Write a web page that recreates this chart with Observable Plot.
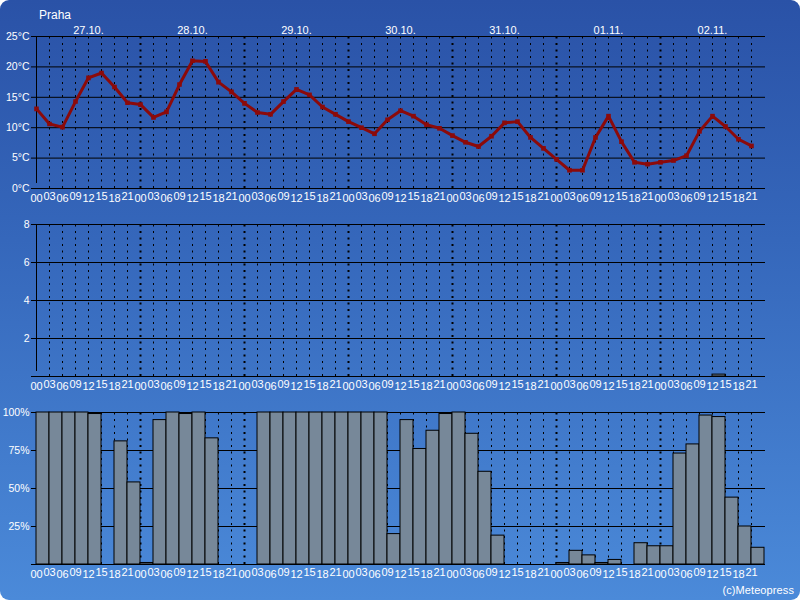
<!DOCTYPE html>
<html>
<head>
<meta charset="utf-8">
<script src="https://cdn.jsdelivr.net/npm/d3@7"></script>
<script src="https://cdn.jsdelivr.net/npm/@observablehq/plot@0.6"></script>
<style>
  html, body { margin: 0; padding: 0; background: #fff; }
  #card { position: absolute; left: 0; top: 0; width: 800px; height: 600px; border-radius: 9px;
          background: linear-gradient(to bottom, #2a52a7 0%, #3567bb 40%, #4b8ad9 100%); overflow: hidden;
          font-family: "Liberation Sans", Arial, sans-serif; }
  .panel { position: absolute; left: 0; }
  #title { position: absolute; left: 39px; top: 9px; font-size: 12px; line-height: 12px; color: #fff; }
  #copy { position: absolute; right: 6px; top: 585px; font-size: 11px; line-height: 11px; color: #fff; letter-spacing: 0.1px; }
</style>
</head>
<body>
<div id="card">
  <div id="title">Praha</div>
  <div class="panel" id="p1" style="top:0px"></div>
  <div class="panel" id="p2" style="top:216px"></div>
  <div class="panel" id="p3" style="top:404px"></div>
  <div id="copy">(c)Meteopress</div>
</div>
<script>
const hourLabels = ["00","03","06","09","12","15","18","21"];
const dayLabels = ["27.10.","28.10.","29.10.","30.10.","31.10.","01.11.","02.11."];
const temperature = [13.1,10.6,10.1,14.3,18.2,19.0,16.7,14.1,
                     13.8,11.7,12.6,17.1,21.0,20.9,17.5,15.9,
                     14.0,12.5,12.2,14.3,16.3,15.4,13.4,12.2,
                     11.0,10.0,9.0,11.3,12.8,11.9,10.5,9.9,
                     8.7,7.6,6.9,8.6,10.8,11.0,8.4,6.6,
                     4.8,3.0,3.0,8.4,11.9,7.7,4.3,4.0,
                     4.3,4.6,5.4,9.4,11.9,10.2,8.1,7.0];
const precipitation = [0,0,0,0,0,0,0,0, 0,0,0,0,0,0,0,0, 0,0,0,0,0,0,0,0, 0,0,0,0,0,0,0,0,
                       0,0,0,0,0,0,0,0, 0,0,0,0,0,0,0,0, 0,0,0,0,0.1,0,0,0];
const cloudCover = [100,100,100,100,99,0,81,54,
                    1,95,100,99,100,83,0,0,
                    0,100,100,100,100,100,100,100,
                    100,100,100,20,95,76,88,99,
                    100,86,61,19,0,0,0,0,
                    1,9,6,1,3,0,14,12,
                    12,73,79,98,97,44,25,11];
const tempTicks = [0,5,10,15,20,25];
const precipTicks = [2,4,6,8];
const cloudTicks = [25,50,75,100];

const N = temperature.length;
const idx = d3.range(N);
const thinIdx = idx.filter(i => i > 0 && i % 8 !== 0);
const midIdx = idx.filter(i => i > 0 && i % 8 === 0);
const evenIdx = idx.filter(i => i % 2 === 0);
const oddIdx = idx.filter(i => i % 2 === 1);
const dayCenters = dayLabels.map((_, k) => k * 8 + 4);

const FONT = "Liberation Sans, Arial, sans-serif";
const base = {
  width: 800, marginLeft: 36, marginRight: 36,
  style: { background: "transparent", color: "white", fontFamily: FONT, overflow: "visible" },
  x: { domain: [0, N], axis: null }
};

function frameMarks(ymax, gridTicks) {
  return [
    Plot.ruleX(thinIdx, { x: d => d, y1: 0, y2: ymax, stroke: "black", strokeWidth: 1, strokeDasharray: "2,4.5" }),
    Plot.ruleX(midIdx, { x: d => d, y1: 0, y2: ymax, stroke: "black", strokeWidth: 2, strokeDasharray: "2,4.5" }),
    Plot.ruleY([0, ...gridTicks], { y: d => d, stroke: "black", strokeWidth: 1, insetLeft: -5, insetRight: -1 }),
    Plot.ruleX([0], { x: d => d, y1: 0, y2: ymax, stroke: "black", strokeWidth: 1, insetTop: -5 })
  ];
}
function hourAxes() {
  return [
    Plot.axisX(evenIdx, { tickSize: 0, tickPadding: 6, tickFormat: i => hourLabels[i % 8], fontSize: 11, fill: "white", label: null }),
    Plot.axisX(oddIdx, { tickSize: 0, tickPadding: 3.5, tickFormat: i => hourLabels[i % 8], fontSize: 11, fill: "white", label: null })
  ];
}

const p1 = Plot.plot({
  ...base, height: 210, marginTop: 36, marginBottom: 22,
  y: { domain: [0, 25], axis: null },
  marks: [
    ...frameMarks(25, [5,10,15,20,25]),
    Plot.axisY(tempTicks, { tickSize: 0, tickPadding: 7, tickFormat: d => d + "°C", fontSize: 10.5, fill: "white", label: null }),
    ...hourAxes(),
    Plot.axisX(dayCenters, { anchor: "top", tickSize: 0, tickPadding: 3, tickFormat: d => dayLabels[(d - 4) / 8], fontSize: 11, fill: "white", label: null }),
    Plot.line(temperature, { x: (d, i) => i, y: d => d, stroke: "#8c0a0a", strokeWidth: 3 }),
    Plot.dot(temperature, { x: (d, i) => i, y: d => d, symbol: "square", r: 2.6, fill: "#8c0a0a", stroke: "none" })
  ]
});
document.getElementById("p1").appendChild(p1);

const precipData = precipitation.map((v, i) => ({ i, v })).filter(d => d.v > 0);
const p2 = Plot.plot({
  ...base, height: 182, marginTop: 8, marginBottom: 22,
  y: { domain: [0, 8], axis: null },
  marks: [
    ...frameMarks(8, [2,4,6,8]),
    Plot.axisY(precipTicks, { tickSize: 0, tickPadding: 7, fontSize: 10.5, fill: "white", label: null }),
    ...hourAxes(),
    Plot.rectY(precipData, { x1: d => d.i, x2: d => d.i + 1, y1: 0, y2: d => d.v, fill: "#778899", stroke: "black", strokeWidth: 1 })
  ]
});
document.getElementById("p2").appendChild(p2);

const cloudData = cloudCover.map((v, i) => ({ i, v })).filter(d => d.v > 0);
const p3 = Plot.plot({
  ...base, height: 182, marginTop: 8, marginBottom: 22,
  y: { domain: [0, 100], axis: null },
  marks: [
    ...frameMarks(100, [25,50,75,100]),
    Plot.axisY(cloudTicks, { tickSize: 0, tickPadding: 7, tickFormat: d => d + "%", fontSize: 10.5, fill: "white", label: null }),
    ...hourAxes(),
    Plot.rectY(cloudData, { x1: d => d.i, x2: d => d.i + 1, y1: 0, y2: d => d.v, fill: "#778899", stroke: "black", strokeWidth: 1 })
  ]
});
document.getElementById("p3").appendChild(p3);
</script>
</body>
</html>
